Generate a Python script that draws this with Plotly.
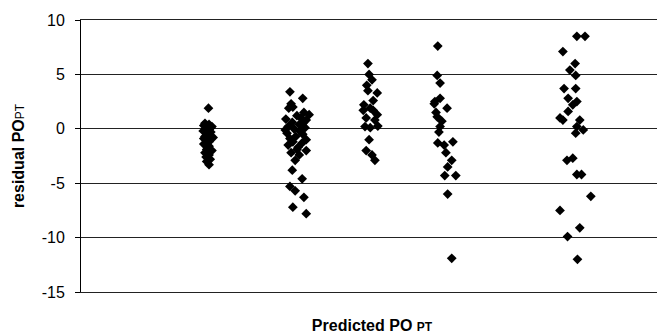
import plotly.graph_objects as go

# Predicted PO_PT (arbitrary units, axis is unlabeled) and residual PO_PT per cluster
g1_x = [2.19, 2.13, 2.20, 2.11, 2.25, 2.16, 2.10, 2.23, 2.18, 2.13, 2.27, 2.15, 2.20, 2.11, 2.20, 2.16, 2.25, 2.13, 2.20, 2.15, 2.22, 2.16, 2.20, 2.11, 2.23]
g1_y = [1.9, 0.5, 0.4, 0.3, 0.2, 0.0, -0.2, -0.3, -0.5, -0.7, -0.8, -1.0, -1.2, -1.4, -1.6, -1.9, -2.0, -2.2, -2.4, -2.6, -2.8, -3.0, -3.3, -0.9, 0.1]

g2_x = [3.59, 3.61, 3.57, 3.81, 3.83, 3.64, 3.71, 3.78, 3.52, 3.87, 3.63, 3.75, 3.56, 3.85, 3.66, 3.76, 3.54, 3.81, 3.69, 3.59, 3.87, 3.64, 3.80, 3.56, 3.73, 3.87, 3.61, 3.75, 3.68, 3.63, 3.80, 3.59, 3.68, 3.83, 3.64, 3.87, 3.51, 3.92, 3.71, 3.81]
g2_y = [3.4, 2.3, 1.9, 2.8, 1.5, 2.0, 1.2, 1.0, 0.9, 0.8, 0.6, 0.4, 0.2, 0.1, 0.0, -0.2, -0.4, -0.5, -0.7, -0.9, -1.0, -1.2, -1.3, -1.5, -1.7, -2.0, -2.2, -2.4, -2.9, -3.8, -4.6, -5.3, -5.7, -6.3, -7.2, -7.8, -0.1, 1.3, -1.9, 0.5]

g3_x = [4.93, 4.95, 5.00, 4.93, 5.09, 5.02, 4.85, 5.02, 5.09, 4.97, 4.90, 5.05, 4.88, 5.10, 4.97, 4.95, 4.90, 5.00, 5.05, 4.91, 4.86]
g3_y = [6.0, 5.0, 4.5, 3.5, 3.3, 2.6, 1.7, 1.7, 1.3, 1.9, 1.0, 0.8, 0.2, 0.25, 0.1, -1.0, -2.0, -2.4, -2.9, 4.0, 2.2]

g4_x = [6.13, 6.12, 6.17, 6.17, 6.07, 6.29, 6.12, 6.17, 6.13, 6.39, 6.27, 6.37, 6.30, 6.25, 6.44, 6.30, 6.37, 6.10, 6.20, 6.15, 6.24, 6.08]
g4_y = [7.6, 4.9, 4.2, 2.8, 2.3, 1.9, 1.1, 0.2, -1.3, -1.2, -2.2, -2.9, -3.5, -4.3, -4.3, -6.0, -11.9, 1.5, 0.7, -0.3, -1.5, 2.5]

g5_x = [8.52, 8.66, 8.28, 8.49, 8.40, 8.50, 8.30, 8.50, 8.37, 8.52, 8.45, 8.37, 8.23, 8.28, 8.57, 8.52, 8.63, 8.50, 8.35, 8.45, 8.52, 8.60, 8.76, 8.23, 8.57, 8.36, 8.53]
g5_y = [8.5, 8.5, 7.1, 6.0, 5.4, 4.9, 3.7, 3.7, 2.8, 2.5, 2.2, 1.6, 1.0, 0.8, 0.8, 0.2, -0.1, -0.4, -2.9, -2.7, -4.2, -4.2, -6.2, -7.5, -9.1, -9.9, -12.0]

y_ticks = [-15, -10, -5, 0, 5, 10]

xs = g1_x + g2_x + g3_x + g4_x + g5_x
ys = g1_y + g2_y + g3_y + g4_y + g5_y

fig = go.Figure()
fig.add_trace(go.Scatter(
    x=xs, y=ys, mode="markers",
    marker=dict(symbol="diamond", size=7.5, color="black", line=dict(width=0)),
    showlegend=False,
))

font = "Liberation Sans, Arial, sans-serif"
# page body has an 8px default margin, so the figure is sized to fit inside the window
fig.update_layout(
    width=657, height=326,
    margin=dict(l=73, r=2, t=12, b=40),
    paper_bgcolor="white", plot_bgcolor="white",
    font=dict(family=font, size=16, color="black"),
    xaxis=dict(
        range=[0, 10], showticklabels=False, ticks="", showgrid=False,
        zeroline=False, showline=True, mirror=True, linecolor="#222", linewidth=1,
        title=dict(text="<b>Predicted PO </b><span style='font-size:12px'><b>PT</b></span>",
                   font=dict(size=16), standoff=29),
    ),
    yaxis=dict(
        range=[-15, 10], tickvals=y_ticks, ticktext=[str(v) for v in y_ticks],
        ticks="outside", ticklen=5, tickcolor="black", ticklabelstandoff=7,
        showgrid=True, gridcolor="#222", gridwidth=1,
        zeroline=False, showline=True, linecolor="black", linewidth=1,
        tickfont=dict(size=16),
        title=dict(text="<b>residual PO</b><span style='font-size:12px'>PT</span>",
                   font=dict(size=16), standoff=13),
    ),
)
fig.write_html("out.html")
